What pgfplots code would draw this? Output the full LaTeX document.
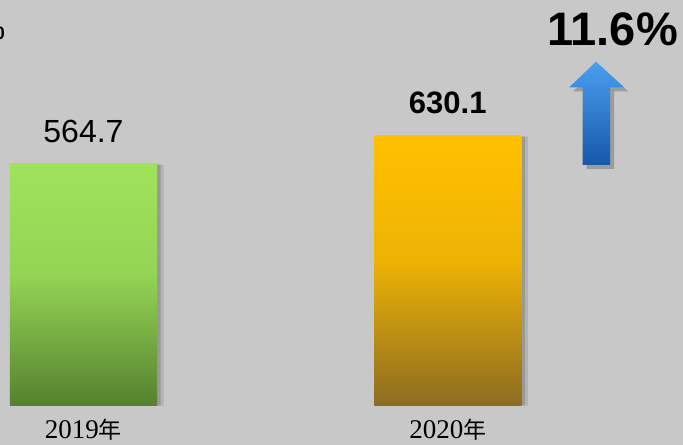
\documentclass[border=0pt]{standalone}
\usepackage{pgfplots}
\pgfplotsset{compat=1.18}
\usepackage{fontspec}
\setmainfont{Liberation Sans}
\newfontfamily\serifdigits{Liberation Serif}
\newfontfamily\cjk{Noto Sans CJK SC}

\definecolor{bg}{HTML}{C8C8C8}
\definecolor{gtop}{HTML}{9FE35B}
\definecolor{gbot}{HTML}{55812F}
\definecolor{otop}{HTML}{FFC000}
\definecolor{obot}{HTML}{8C6C22}
\definecolor{atop}{HTML}{4A9FF0}
\definecolor{abot}{HTML}{1757A8}

\pgfdeclareverticalshading{greenbar}{100bp}{color(0bp)=(gbot); color(25bp)=(gbot); color(52bp)=(gtop!85!gbot); color(75bp)=(gtop); color(100bp)=(gtop)}
\pgfdeclareverticalshading{orangebar}{100bp}{color(0bp)=(obot); color(25bp)=(obot); color(52bp)=(otop!85!obot); color(75bp)=(otop); color(100bp)=(otop)}

\begin{document}
\begin{tikzpicture}
\begin{axis}[
    width=683pt, height=445pt, scale only axis,
    axis lines=none,
    axis background/.style={fill=bg},
    xmin=-0.2292, xmax=1.6458,
    ymin=-91.9, ymax=946.3,
    ybar, bar width=0.4036,
    clip=false,
]
% soft shadows of the bars
\addplot[fill=black, draw=none, opacity=0.10, bar shift=0.018] coordinates {(0,562.0) (1,627.4)};
\addplot[fill=black, draw=none, opacity=0.14, bar shift=0.010] coordinates {(0,563.0) (1,628.4)};
% bars
\addplot[draw=none, shading=greenbar, bar shift=0,
    nodes near coords, point meta=explicit symbolic,
    every node near coord/.append style={anchor=base, yshift=21pt, font=\fontsize{32}{32}\selectfont, text=black}]
    coordinates {(0,564.7) [564.7]};
\addplot[draw=none, shading=orangebar, bar shift=0,
    nodes near coords, point meta=explicit symbolic,
    every node near coord/.append style={anchor=base, yshift=22pt, font=\bfseries\fontsize{31}{31}\selectfont, text=black}]
    coordinates {(1,630.1) [630.1]};
% category labels
\node[anchor=base, inner sep=0pt] at (axis cs:0,-77.9) {{\serifdigits\fontsize{27}{27}\selectfont 2019}{\cjk\fontsize{23}{23}\selectfont 年}};
\node[anchor=base, inner sep=0pt] at (axis cs:1,-77.9) {{\serifdigits\fontsize{27}{27}\selectfont 2020}{\cjk\fontsize{23}{23}\selectfont 年}};
% growth label and arrow
\node[anchor=base, inner sep=0pt, font=\bfseries\fontsize{47}{47}\selectfont] at (axis cs:1.4523,841) {11.6\%};
\fill[black, opacity=0.22, xshift=4pt, yshift=-4pt]
    (axis cs:1.4070,802.4) -- (axis cs:1.4839,742.7) -- (axis cs:1.4455,742.7) -- (axis cs:1.4455,561.6)
    -- (axis cs:1.3705,561.6) -- (axis cs:1.3705,742.7) -- (axis cs:1.3337,742.7) -- cycle;
\shade[top color=atop, bottom color=abot]
    (axis cs:1.4070,802.4) -- (axis cs:1.4839,742.7) -- (axis cs:1.4455,742.7) -- (axis cs:1.4455,561.6)
    -- (axis cs:1.3705,561.6) -- (axis cs:1.3705,742.7) -- (axis cs:1.3337,742.7) -- cycle;
% cut-off text at top left
\node[anchor=base east, inner sep=0pt, font=\bfseries\fontsize{18}{18}\selectfont] at (axis cs:-0.2155,853) {0};
\end{axis}
\pgfresetboundingbox
\path (current axis.south west) rectangle (current axis.north east);
\end{tikzpicture}
\end{document}
